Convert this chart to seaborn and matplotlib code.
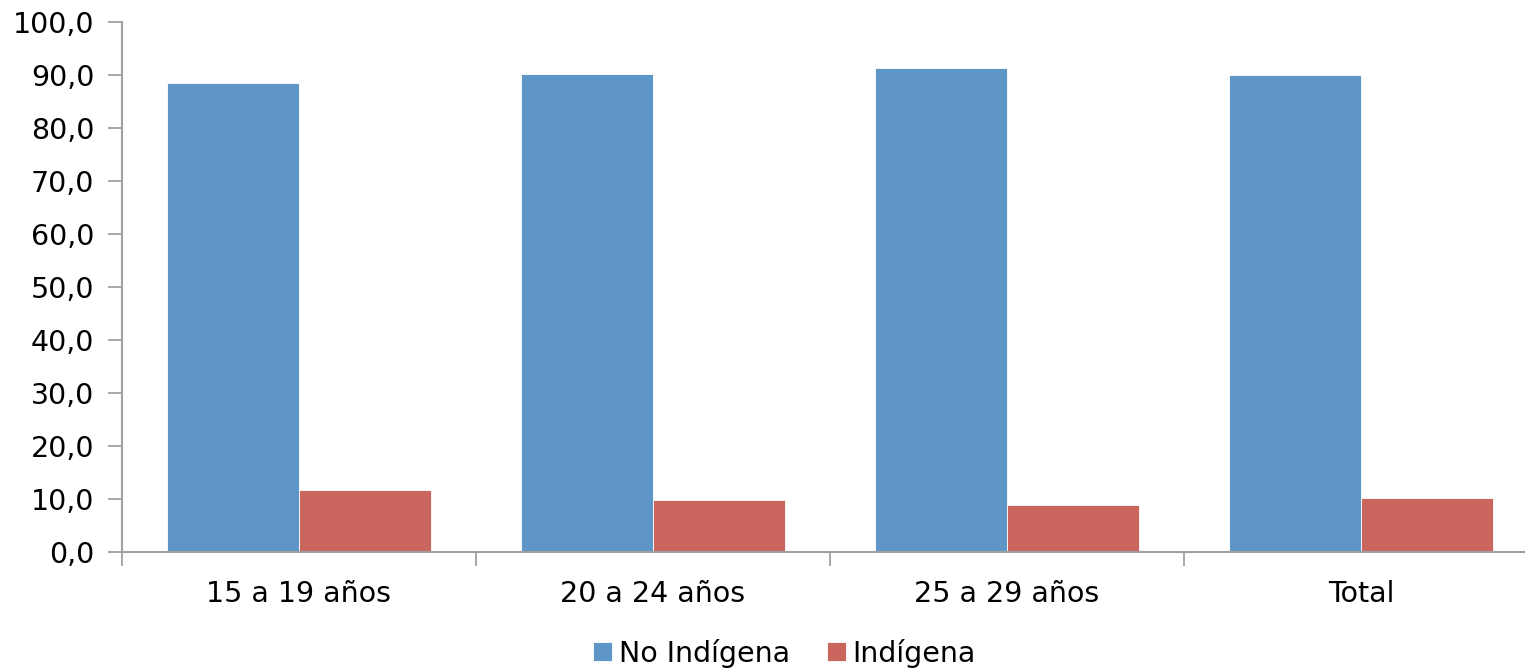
import pandas as pd
import matplotlib.pyplot as plt
import seaborn as sb
from matplotlib.ticker import FuncFormatter, FixedLocator

# data
groups = ["15 a 19 años", "20 a 24 años", "25 a 29 años", "Total"]
no_indigena = [88.5, 90.1, 91.3, 90.0]
indigena = [11.7, 9.8, 8.8, 10.1]
series = ["No Indígena", "Indígena"]
colors = ["#5F96C8", "#CB665E"]

df = pd.DataFrame({
    "grupo": groups * 2,
    "valor": no_indigena + indigena,
    "serie": [series[0]] * len(groups) + [series[1]] * len(groups),
})

sb.set_style("white")
plt.rcParams['font.family'] = ['DejaVu Sans']
plt.rcParams['text.color'] = 'black'

fig = plt.figure(figsize=(15.25, 6.7), dpi=100)
ax = fig.add_axes([122 / 1525, 1 - 552 / 670, 1416 / 1525, 530 / 670])

sb.barplot(
    data=df, x="grupo", y="valor", hue="serie",
    palette=colors, width=0.745, gap=0, saturation=1,
    edgecolor="white", linewidth=0.6, ax=ax
)

ax.set_xlim(-0.5, 3.5)
ax.set_ylim(0, 100)
ax.set_yticks(range(0, 101, 10))
ax.yaxis.set_major_formatter(FuncFormatter(lambda v, p: f"{v:.1f}".replace(".", ",")))
ax.set_xlabel("")
ax.set_ylabel("")

# tick marks between categories, like the spreadsheet original
ax.xaxis.set_minor_locator(FixedLocator([-0.5, 0.5, 1.5, 2.5, 3.5]))
ax.tick_params(axis="x", which="major", length=0, labelsize=20.5, pad=20,
               labelcolor="black", bottom=True)
ax.tick_params(axis="x", which="minor", length=10, width=1.3, color="#A0A0A0",
               direction="out", bottom=True)
ax.tick_params(axis="y", length=10, width=1.3, color="#A0A0A0", direction="out",
               labelsize=20.5, pad=10, left=True, labelcolor="black")

for side in ["top", "right"]:
    ax.spines[side].set_visible(False)
for side in ["left", "bottom"]:
    ax.spines[side].set_color("#A0A0A0")
    ax.spines[side].set_linewidth(1.5)

ax.legend(
    loc="lower center", bbox_to_anchor=(0.468, -0.24), ncol=2, frameon=False,
    fontsize=20.5, handlelength=0.65, handleheight=0.65, handletextpad=0.25,
    columnspacing=1.3, borderaxespad=0, labelcolor="black"
)

fig.savefig("out.png", dpi=100)
